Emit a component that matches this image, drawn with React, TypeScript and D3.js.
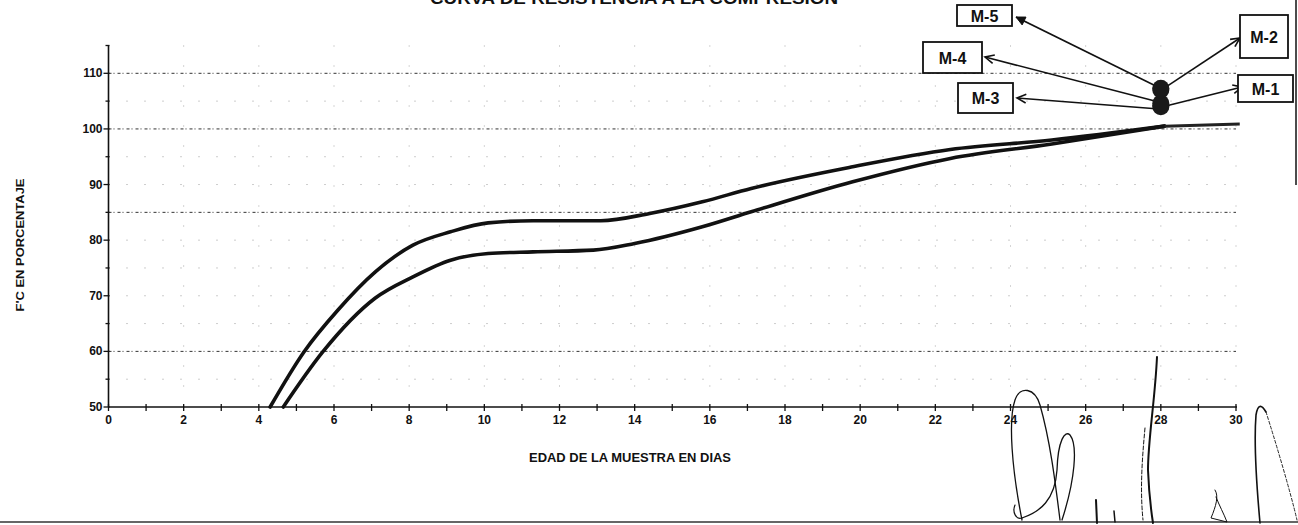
import React from 'react';
import * as d3 from 'd3';

// ---- data ----
const upperDays = [4.3, 5.2, 6.1, 7.1, 8.1, 9.1, 10.1, 11.3, 13.1, 14.4, 15.8, 17.1, 19.8, 22.4, 25.1, 28.1];
const upperPct = [50, 59.9, 67.4, 74.3, 79.1, 81.5, 83.1, 83.5, 83.5, 84.8, 86.9, 89.3, 93.2, 96.3, 98.0, 100.5];
const lowerDays = [4.65, 5.7, 7.1, 8.1, 9.1, 10.1, 11.3, 12.9, 14.0, 15.8, 17.1, 19.8, 22.4, 25.1, 28.1];
const lowerPct = [50, 59.9, 69.6, 73.4, 76.4, 77.6, 77.9, 78.2, 79.4, 82.4, 85.1, 90.5, 94.7, 97.3, 100.5];
const plateauDays = [28.1, 30.1];
const plateauPct = [100.5, 100.9];

const sampleLabels = ['M-1', 'M-2', 'M-3', 'M-4', 'M-5'];
const sampleDays = [28, 28, 28, 28, 28];
const samplePct = [104.2, 107.3, 104.0, 104.6, 107.0];

const xTickLabels = [0, 2, 4, 6, 8, 10, 12, 14, 16, 18, 20, 22, 24, 26, 28, 30];
const yTickLabels = [50, 60, 70, 80, 90, 100, 110];
const majorGrid = [110, 100, 85, 60];
const faintGrid = [105, 95, 90, 80, 75, 70, 65, 55];

const title = 'CURVA DE RESISTENCIA A LA COMPRESION';
const xTitle = 'EDAD DE LA MUESTRA EN DIAS';
const yTitle = "F'C  EN PORCENTAJE";

// ---- annotation layout (label boxes) ----
const boxLayout: Record<string, { x: number; y: number; w: number; h: number; tx: number; ty: number; dx: number; dy: number; filled?: boolean }> = {
  'M-1': { x: 1238, y: 75, w: 55, h: 27, tx: 1242, ty: 87, dx: 7, dy: 0 },
  'M-2': { x: 1240, y: 15, w: 48, h: 43, tx: 1240, ty: 38, dx: 6, dy: -2 },
  'M-3': { x: 958, y: 83, w: 55, h: 30, tx: 1017, ty: 98, dx: -5, dy: 2 },
  'M-4': { x: 923, y: 42, w: 59, h: 31, tx: 985, ty: 57, dx: -5, dy: -2 },
  'M-5': { x: 957, y: 5, w: 55, h: 21, tx: 1016, ty: 17, dx: -5, dy: -4, filled: true },
};

const W = 1298;
const H = 525;
const FONT = "'Liberation Sans', Arial, sans-serif";

export default function App() {
  const x = d3.scaleLinear().domain([0, 30]).range([108.5, 1236]);
  const y = d3.scaleLinear().domain([50, 115]).range([407, 45.5]);

  const line = d3
    .line<[number, number]>()
    .x((d) => x(d[0]))
    .y((d) => y(d[1]))
    .curve(d3.curveMonotoneX);

  const upper = line(upperDays.map((d, i) => [d, upperPct[i]]));
  const lower = line(lowerDays.map((d, i) => [d, lowerPct[i]]));
  const plateau = line(plateauDays.map((d, i) => [d, plateauPct[i]]));

  const xMinor = d3.range(0, 31, 1);
  const yMinor = d3.range(50, 116, 5);
  const xEven = d3.range(2, 31, 2);

  const arrowHead = (fx: number, fy: number, tx: number, ty: number, filled?: boolean) => {
    const ang = Math.atan2(ty - fy, tx - fx);
    const L = 10;
    const a1 = ang + Math.PI - 0.45;
    const a2 = ang + Math.PI + 0.45;
    const p1 = [tx + L * Math.cos(a1), ty + L * Math.sin(a1)];
    const p2 = [tx + L * Math.cos(a2), ty + L * Math.sin(a2)];
    if (filled) {
      return <path d={`M${p1[0]},${p1[1]} L${tx},${ty} L${p2[0]},${p2[1]} Z`} fill="#111" stroke="#111" strokeWidth={1} />;
    }
    return <path d={`M${p1[0]},${p1[1]} L${tx},${ty} L${p2[0]},${p2[1]}`} fill="none" stroke="#111" strokeWidth={1.6} />;
  };

  return (
    <svg width={W} height={H} style={{ position: 'absolute', left: 0, top: 0, background: '#fff' }} fontFamily={FONT}>
      <rect x={0} y={0} width={W} height={H} fill="#fff" />

      {/* title, cut at the top of the page as in the scan */}
      <text x={634} y={4} textAnchor="middle" fontSize={16} fontWeight="bold" textLength={408} lengthAdjust="spacingAndGlyphs" fill="#111">
        {title}
      </text>

      {/* faint grid */}
      {faintGrid.map((v) => (
        <line key={'fg' + v} x1={x(0)} x2={x(30)} y1={y(v)} y2={y(v)} stroke="#9a9a9a" strokeWidth={1} strokeDasharray="1 17" />
      ))}
      {xEven.map((d) => (
        <line key={'vg' + d} x1={x(d)} x2={x(d)} y1={y(115)} y2={y(50)} stroke="#aaa" strokeWidth={1} strokeDasharray="1 19" />
      ))}
      {/* main dotted grid */}
      {majorGrid.map((v) => (
        <line key={'mg' + v} x1={x(0)} x2={x(30)} y1={y(v)} y2={y(v)} stroke="#333" strokeWidth={1} strokeDasharray="3 2 1 3" />
      ))}

      {/* axes */}
      <line x1={x(0)} x2={x(0)} y1={y(115)} y2={y(50)} stroke="#111" strokeWidth={1.6} />
      <line x1={x(0)} x2={x(30) + 1} y1={y(50)} y2={y(50)} stroke="#111" strokeWidth={1.6} />
      {yMinor.map((v) => (
        <line key={'yt' + v} x1={x(0) - (v % 10 === 0 ? 5 : 3)} x2={x(0) + 1} y1={y(v)} y2={y(v)} stroke="#111" strokeWidth={1.3} />
      ))}
      {xMinor.map((d) => (
        <line key={'xt' + d} x1={x(d)} x2={x(d)} y1={y(50) - 3} y2={y(50) + 4} stroke="#111" strokeWidth={1.3} />
      ))}
      {yTickLabels.map((v) => (
        <text key={'yl' + v} x={x(0) - 6} y={y(v) + 4} textAnchor="end" fontSize={12} fontWeight="bold" fill="#111">
          {v}
        </text>
      ))}
      {xTickLabels.map((d) => (
        <text key={'xl' + d} x={x(d)} y={424} textAnchor="middle" fontSize={12} fontWeight="bold" fill="#111">
          {d}
        </text>
      ))}

      {/* axis titles */}
      <text x={630} y={462} textAnchor="middle" fontSize={12} fontWeight={600} textLength={202} lengthAdjust="spacingAndGlyphs" fill="#111">
        {xTitle}
      </text>
      <text transform="translate(24,245) rotate(-90)" textAnchor="middle" fontSize={10.5} fontWeight="bold" textLength={133} lengthAdjust="spacingAndGlyphs" fill="#111">
        {yTitle}
      </text>

      {/* curves */}
      <path d={upper || ''} fill="none" stroke="#111" strokeWidth={3.6} strokeLinecap="round" />
      <path d={lower || ''} fill="none" stroke="#111" strokeWidth={3.6} strokeLinecap="round" />
      <path d={plateau || ''} fill="none" stroke="#222" strokeWidth={3} />

      {/* arrows to labels */}
      {sampleLabels.map((lab, i) => {
        const b = boxLayout[lab];
        const fx = x(sampleDays[i]) + b.dx;
        const fy = y(samplePct[i]) + b.dy;
        return (
          <g key={'ar' + lab}>
            <line x1={fx} y1={fy} x2={b.tx} y2={b.ty} stroke="#111" strokeWidth={1.6} />
            {arrowHead(fx, fy, b.tx, b.ty, b.filled)}
          </g>
        );
      })}

      {/* sample points */}
      {sampleLabels.map((lab, i) => (
        <circle key={'pt' + lab} cx={x(sampleDays[i])} cy={y(samplePct[i])} r={8.5} fill="#1a1a1a" />
      ))}

      {/* label boxes */}
      {sampleLabels.map((lab) => {
        const b = boxLayout[lab];
        return (
          <g key={'bx' + lab}>
            <rect x={b.x} y={b.y} width={b.w} height={b.h} fill="#fff" stroke="#111" strokeWidth={1.8} />
            <text x={b.x + b.w / 2} y={b.y + b.h / 2 + 6} textAnchor="middle" fontSize={16} fontWeight="bold" fill="#111">
              {lab}
            </text>
          </g>
        );
      })}

      {/* page border fragments */}
      <line x1={1296} x2={1296} y1={0} y2={185} stroke="#111" strokeWidth={1.5} />
      <line x1={0} x2={W} y1={522} y2={522} stroke="#333" strokeWidth={1.3} />

      {/* handwritten signature */}
      <g fill="none" stroke="#111" strokeLinecap="round">
        <path d="M1015,505 C1012,512 1016,520 1022,518" strokeWidth={1.2} />
        <path d="M1022,520 C1012,470 1008,420 1015,400 C1020,385 1035,388 1040,405 C1050,440 1055,480 1060,520" strokeWidth={1.3} />
        <path d="M1022,518 C1040,512 1055,500 1057,470 C1058,440 1065,430 1070,435 C1078,445 1075,480 1062,520" strokeWidth={1.3} />
        <path d="M1157,357 C1155,400 1148,440 1148,470 C1149,495 1151,510 1153,523" strokeWidth={2} />
        <path d="M1145,428 C1142,460 1140,490 1143,520" strokeWidth={1} strokeDasharray="4 2" />
        <path d="M1096,500 L1097,523" strokeWidth={2} />
        <path d="M1114,511 L1115,522" strokeWidth={1.5} />
        <path d="M1215,490 C1219,496 1216,506 1211,518 L1227,522 C1224,514 1219,505 1216,497" strokeWidth={1} />
        <path d="M1260,523 C1257,490 1254,440 1256,415 C1258,403 1262,405 1266,412" strokeWidth={1.6} />
        <path d="M1266,412 C1275,440 1290,490 1297,520" strokeWidth={0.9} strokeDasharray="3 2" />
      </g>
    </svg>
  );
}
